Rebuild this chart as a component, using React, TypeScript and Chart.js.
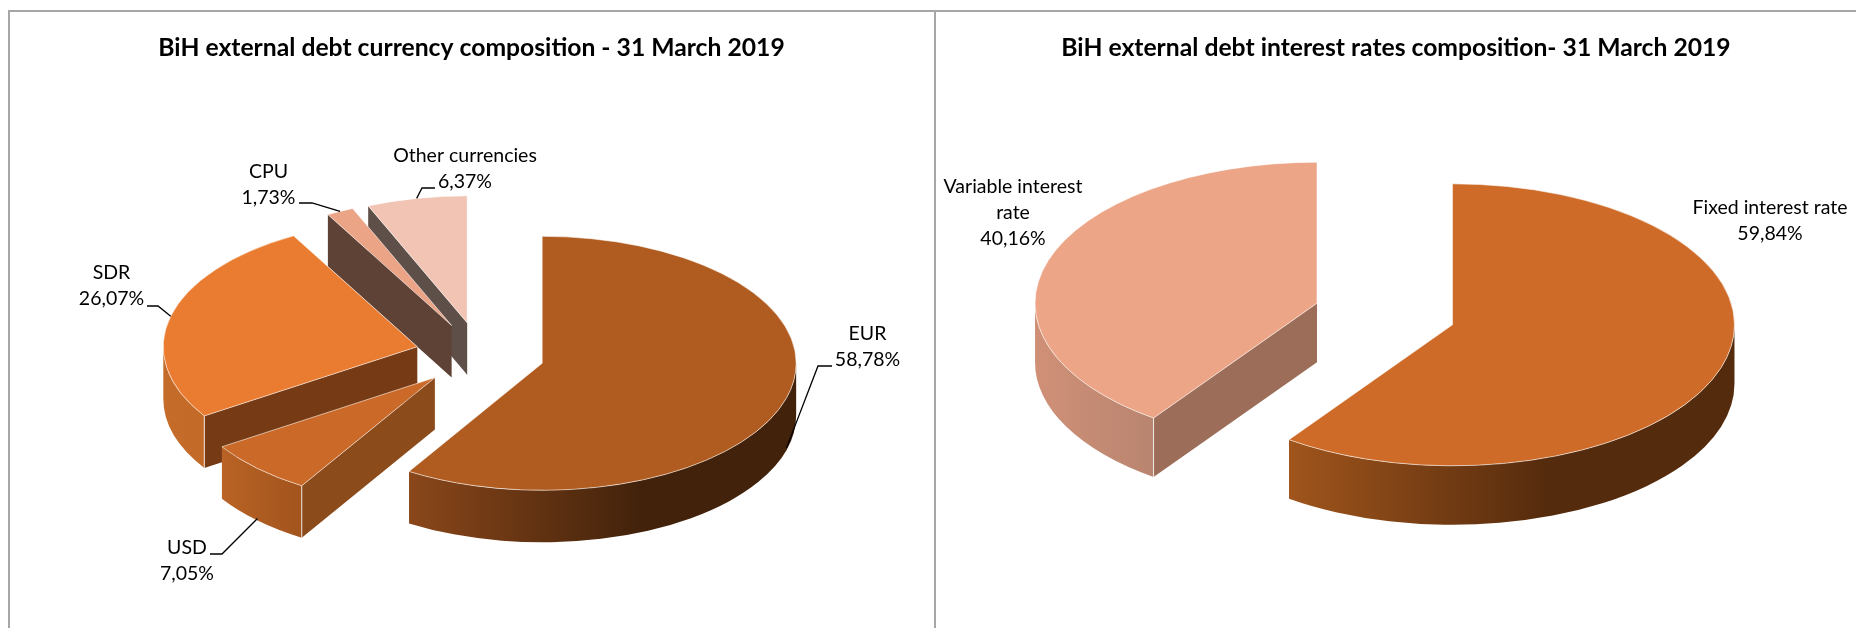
import { useEffect, useRef } from "react";
import { Chart, PieController, registerables } from "chart.js";

const FONT = "Lato, 'Noto Sans', sans-serif";

// Currency composition
const currencyNames = [["EUR"], ["USD"], ["SDR"], ["CPU"], ["Other currencies"]];
const currencyShares = [58.78, 7.05, 26.07, 1.73, 6.37];
const currencyTops = ["#b05c20", "#cb6a28", "#ea7c31", "#eba486", "#f1c4b3"];
const currencyCuts = ["#42220b", "#8c4b1b", "#763b15", "#5e4236", "#5f4f49"];
const currencyWalls = [
  [[0, "#8a471a"], [0.6, "#42220b"], [1, "#42220b"]],
  [[0, "#b96325"], [1, "#a2541d"]],
  [[0, "#c66c2b"], [1, "#c46a29"]],
  [[0, "#5e4236"], [1, "#5e4236"]],
  [[0, "#5f4f49"], [1, "#5f4f49"]],
];
// Label centre, then the leader's elbow and the end of its short tail
const currencyCallouts = [
  { x: 867.5, y: 347, elbow: [818, 366], tail: [832, 366] },
  { x: 187, y: 561, elbow: [222, 554], tail: [210, 554] },
  { x: 111.5, y: 286, elbow: [158, 306], tail: [147, 306] },
  { x: 268.5, y: 185, elbow: [312, 203], tail: [299, 203] },
  { x: 465, y: 169, elbow: [422, 188], tail: [435, 188] },
];

// Interest rate composition
const rateNames = [["Fixed interest rate"], ["Variable interest", "rate"]];
const rateShares = [59.84, 40.16];
const rateTops = ["#ce6b28", "#eda587"];
const rateCuts = ["#552b0d", "#9c6d58"];
const rateWalls = [
  [[0, "#a0551c"], [0.58, "#552b0d"], [1, "#552b0d"]],
  [[0, "#d09077"], [1, "#b98570"]],
];
const rateCallouts = [
  { x: 1770, y: 221 },
  { x: 1013, y: 213 },
];

const currencyTitle = "BiH external debt currency composition - 31 March 2019";
const rateTitle = "BiH external debt interest rates composition- 31 March 2019";

// Where a point on a slice's rim lands on the page, once squashed and exploded
function rimPoint(el: any, ds: any, angle: number, drop: number) {
  const mid = (el.startAngle + el.endAngle) / 2;
  return [
    ds.pageCenter[0] + ds.explode * Math.cos(mid) + el.outerRadius * Math.cos(angle),
    ds.pageCenter[1] + ds.squash * (ds.explode * Math.sin(mid) + el.outerRadius * Math.sin(angle)) + drop,
  ];
}

// A pie drawn as an exploded, tilted solid: the arcs come from the stock element,
// painted back to front inside a squashed transform, with walls added below them.
class SolidPieController extends PieController {
  static id = "solidPie";

  draw() {
    const ds: any = this.getDataset();
    const { ctx, canvas } = this.chart;
    const origin = canvas.getBoundingClientRect();
    const arcs: any[] = this.getMeta().data;
    ctx.save();
    // Everything below is expressed in page coordinates
    ctx.translate(-origin.left, -origin.top);
    for (let i = arcs.length - 1; i >= 0; i--) {
      const el = arcs[i];
      this.paintWalls(ctx, el, ds, i);
      const mid = (el.startAngle + el.endAngle) / 2;
      ctx.save();
      ctx.translate(ds.pageCenter[0], ds.pageCenter[1]);
      ctx.scale(1, ds.squash);
      ctx.translate(ds.explode * Math.cos(mid) - el.x, ds.explode * Math.sin(mid) - el.y);
      el.draw(ctx);
      ctx.restore();
    }
    ctx.restore();
  }

  paintWalls(ctx: CanvasRenderingContext2D, el: any, ds: any, i: number) {
    const { startAngle: a1, endAngle: a2, outerRadius: r } = el;
    const mid = (a1 + a2) / 2;
    const ax = ds.pageCenter[0] + ds.explode * Math.cos(mid);
    const ay = ds.pageCenter[1] + ds.squash * ds.explode * Math.sin(mid);
    const h = ds.depth;

    const cutFace = (angle: number) => {
      const [px, py] = rimPoint(el, ds, angle, 0);
      ctx.beginPath();
      ctx.moveTo(ax, ay);
      ctx.lineTo(px, py);
      ctx.lineTo(px, py + h);
      ctx.lineTo(ax, ay + h);
      ctx.closePath();
      ctx.fillStyle = ds.cutColors[i];
      ctx.fill();
    };
    const startShows = a1 > Math.PI / 2 && a1 < (3 * Math.PI) / 2;
    const endShows = a2 > -Math.PI / 2 && a2 < Math.PI / 2;
    if (startShows) cutFace(a1);
    if (endShows) cutFace(a2);

    const from = Math.max(a1, 0);
    const to = Math.min(a2, Math.PI);
    if (to > from) {
      const xa = rimPoint(el, ds, from, 0)[0];
      const xb = rimPoint(el, ds, to, 0)[0];
      const grad = ctx.createLinearGradient(Math.min(xa, xb), 0, Math.max(xa, xb), 0);
      ds.wallShades[i].forEach(([stop, colour]: [number, string]) => grad.addColorStop(stop, colour));
      ctx.beginPath();
      ctx.ellipse(ax, ay, r, r * ds.squash, 0, from, to);
      ctx.ellipse(ax, ay + h, r, r * ds.squash, 0, to, from, true);
      ctx.closePath();
      ctx.fillStyle = grad;
      ctx.fill();
      // Pale vertical crease where the visible cut meets the rim
      if (startShows && a1 < Math.PI) {
        const [px, py] = rimPoint(el, ds, a1, 0);
        ctx.strokeStyle = "rgba(255,255,255,0.8)";
        ctx.lineWidth = 1;
        ctx.beginPath();
        ctx.moveTo(px, py);
        ctx.lineTo(px, py + h);
        ctx.stroke();
      }
    }
  }
}

Chart.register(...registerables, SolidPieController);

const percent = (v: number) => v.toFixed(2).replace(".", ",") + "%";

// Slice names, shares and leader lines
const calloutPlugin = {
  id: "callouts",
  afterDatasetsDraw(chart: any, _args: any, opts: any) {
    const { ctx } = chart;
    const ds = chart.data.datasets[0];
    const origin = chart.canvas.getBoundingClientRect();
    const arcs = chart.getDatasetMeta(0).data;
    ctx.save();
    ctx.translate(-origin.left, -origin.top);
    opts.items.forEach((item: any, i: number) => {
      const lines = [...chart.data.labels[i], percent(ds.data[i])];
      ctx.font = `${opts.size}px ${FONT}`;
      ctx.fillStyle = "#000";
      ctx.textAlign = "center";
      ctx.textBaseline = "middle";
      const top = item.y - ((lines.length - 1) * opts.leading) / 2;
      lines.forEach((line: string, k: number) => ctx.fillText(line, item.x, top + k * opts.leading));
      if (item.elbow) {
        const el = arcs[i];
        const mid = (el.startAngle + el.endAngle) / 2;
        const end = rimPoint(el, ds, mid, Math.sin(mid) > 0 ? ds.depth - 2 : 0);
        ctx.beginPath();
        ctx.moveTo(item.tail[0], item.tail[1]);
        ctx.lineTo(item.elbow[0], item.elbow[1]);
        ctx.lineTo(end[0], end[1]);
        ctx.strokeStyle = "#000";
        ctx.lineWidth = 1.3;
        ctx.stroke();
      }
    });
    ctx.restore();
  },
};

function Panel(props: any) {
  const ref = useRef<HTMLCanvasElement>(null);
  const { left, width, title, labels, data, colors, cuts, walls, callouts, center, radius, explode, depth } = props;
  useEffect(() => {
    const chart = new Chart(ref.current!, {
      type: "solidPie" as any,
      data: {
        labels,
        datasets: [
          {
            data,
            backgroundColor: colors,
            borderColor: "rgba(255,255,255,0.75)",
            borderWidth: 1,
            radius,
            clip: false,
            pageCenter: center,
            explode,
            squash: 0.5,
            depth,
            cutColors: cuts,
            wallShades: walls,
          } as any,
        ],
      },
      options: {
        responsive: false,
        animation: false,
        events: [],
        plugins: {
          legend: { display: false },
          tooltip: { enabled: false },
          title: {
            display: true,
            text: title,
            color: "#000",
            font: { family: FONT, size: 24.7, weight: "bold", lineHeight: 1.2 },
            padding: { top: 21, bottom: 10 },
          },
          callouts: { items: callouts, size: 19.5, leading: 26 },
        } as any,
      },
      plugins: [calloutPlugin],
    } as any);
    return () => chart.destroy();
  }, []);
  return (
    <canvas
      ref={ref}
      width={width}
      height={616}
      style={{ position: "absolute", left, top: 12, width, height: 616 }}
    />
  );
}

const rule = "#a6a6a6";

export default function App() {
  return (
    <div style={{ position: "fixed", inset: 0, width: 1856, height: 628, background: "#fff", overflow: "hidden" }}>
      <div style={{ position: "absolute", left: 8, top: 10, width: 2, height: 618, background: rule }} />
      <div style={{ position: "absolute", left: 8, top: 10, width: 1848, height: 2, background: rule }} />
      <div style={{ position: "absolute", left: 934, top: 10, width: 2, height: 618, background: rule }} />
      <Panel
        left={10}
        width={923}
        title={currencyTitle}
        labels={currencyNames}
        data={currencyShares}
        colors={currencyTops}
        cuts={currencyCuts}
        walls={currencyWalls}
        callouts={currencyCallouts}
        center={[480, 354.5]}
        radius={254}
        explode={64.6}
        depth={52}
      />
      <Panel
        left={936}
        width={920}
        title={rateTitle}
        labels={rateNames}
        data={rateShares}
        colors={rateTops}
        cuts={rateCuts}
        walls={rateWalls}
        callouts={rateCallouts}
        center={[1384.75, 314]}
        radius={282}
        explode={71.1}
        depth={59}
      />
    </div>
  );
}
